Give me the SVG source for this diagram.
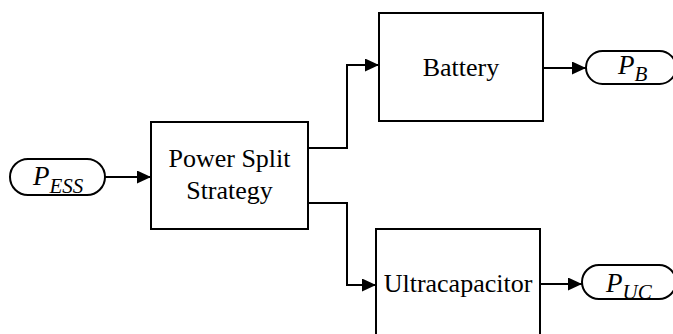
<svg xmlns="http://www.w3.org/2000/svg" width="673" height="334" viewBox="0 0 673 334">
<style>
.box{fill:#fff;stroke:#000;stroke-width:2}
.pill{fill:#fff;stroke:#000;stroke-width:2}
.lbl{font-family:"Liberation Serif","Times New Roman",serif;font-size:26px;fill:#000;text-anchor:middle}
.sym{font-family:"Liberation Serif","Times New Roman",serif;font-style:italic;font-size:27px;fill:#000}
.sub{font-size:21px}
.wire{fill:none;stroke:#000;stroke-width:2}
</style>
<defs>
<marker id="arr" markerWidth="14" markerHeight="13" refX="14" refY="6.5" orient="auto" markerUnits="userSpaceOnUse">
<path d="M0,0 L14,6.5 L0,13 Z" fill="#000"/>
</marker>
</defs>
<g id="pess">
<rect class="pill" x="10" y="159" width="95" height="36" rx="18"/>
<text class="sym" x="33" y="185">P<tspan class="sub" dy="8">ESS</tspan></text>
</g>
<g id="split">
<rect class="box" x="151" y="122" width="157" height="107"/>
<text class="lbl" x="229.5" y="167">Power Split</text>
<text class="lbl" x="229.5" y="199">Strategy</text>
</g>
<g id="battery">
<rect class="box" x="379" y="13" width="164" height="108"/>
<text class="lbl" x="461" y="76">Battery</text>
</g>
<g id="ultracap">
<rect class="box" x="376" y="229" width="164" height="110"/>
<text class="lbl" x="458" y="292">Ultracapacitor</text>
</g>
<g id="pb">
<rect class="pill" x="586" y="51" width="90" height="33" rx="16.5"/>
<text class="sym" x="618" y="74">P<tspan class="sub" dy="7">B</tspan></text>
</g>
<g id="puc">
<rect class="pill" x="582" y="265" width="94" height="34" rx="17"/>
<text class="sym" x="606" y="292">P<tspan class="sub" dy="7">UC</tspan></text>
</g>
<g id="connectors">
<path class="wire" d="M105,177 H151" marker-end="url(#arr)"/>
<path class="wire" d="M308,148 H347 V65 H379" marker-end="url(#arr)"/>
<path class="wire" d="M308,203 H347 V285 H376" marker-end="url(#arr)"/>
<path class="wire" d="M543,68 H586" marker-end="url(#arr)"/>
<path class="wire" d="M540,284 H582" marker-end="url(#arr)"/>
</g>
</svg>
